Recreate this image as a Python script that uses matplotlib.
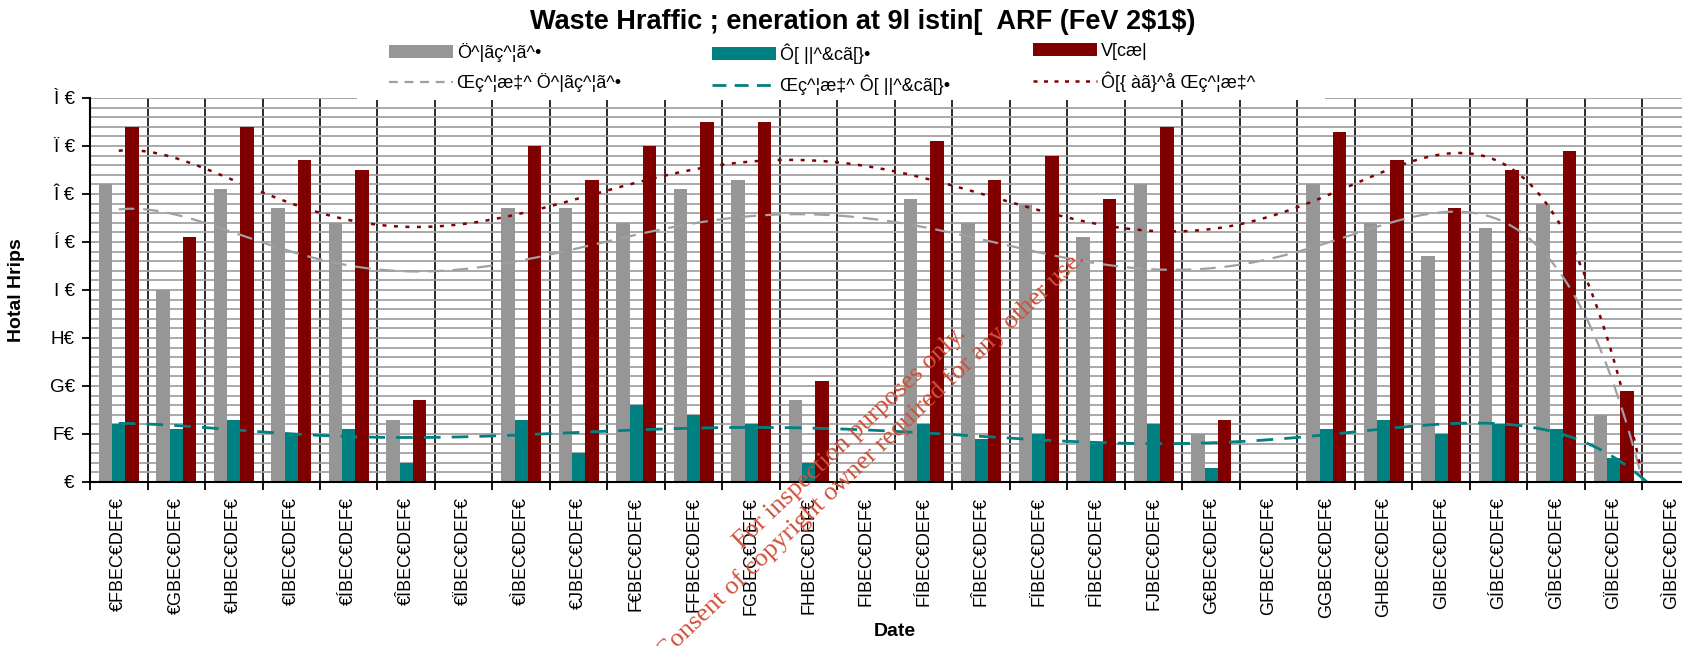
import numpy as np
import matplotlib
matplotlib.use("Agg")
import matplotlib.pyplot as plt
from matplotlib.patches import Rectangle, Patch
from matplotlib.lines import Line2D

# ---- data -------------------------------------------------------------
nan = np.nan
date_labels = [
    "€FBEC€DEF€", "€GBEC€DEF€", "€HBEC€DEF€", "€IBEC€DEF€", "€ÍBEC€DEF€",
    "€ÎBEC€DEF€", "€ÏBEC€DEF€", "€ÌBEC€DEF€", "€JBEC€DEF€", "F€BEC€DEF€",
    "FFBEC€DEF€", "FGBEC€DEF€", "FHBEC€DEF€", "FIBEC€DEF€", "FÍBEC€DEF€",
    "FÎBEC€DEF€", "FÏBEC€DEF€", "FÌBEC€DEF€", "FJBEC€DEF€", "G€BEC€DEF€",
    "GFBEC€DEF€", "GGBEC€DEF€", "GHBEC€DEF€", "GIBEC€DEF€", "GÍBEC€DEF€",
    "GÎBEC€DEF€", "GÏBEC€DEF€", "GÌBEC€DEF€",
]
deliveries = [62, 40, 61, 57, 54, 13, nan, 57, 57, 54, 61, 63, 17, nan,
              59, 54, 58, 51, 62, 10, nan, 62, 54, 47, 53, 58, 14, nan]
collections = [12, 11, 13, 10, 11, 4, nan, 13, 6, 16, 14, 12, 4, nan,
               12, 9, 10, 8, 12, 3, nan, 11, 13, 10, 12, 11, 5, nan]
total = [74, 51, 74, 67, 65, 17, nan, 70, 63, 70, 75, 75, 21, nan,
         71, 63, 68, 59, 74, 13, nan, 73, 67, 57, 65, 69, 19, nan]

y_ticks = [0, 10, 20, 30, 40, 50, 60, 70, 80]
y_tick_labels = ["€", "F€", "G€", "H€", "I €", "Í €", "Î €", "Ï €", "Ì €"]

series_names = ["Ö^|ãç^¦ã^•", "Ô[ ||^&cã[}•", "V[cæ|"]
trend_names = ["Œç^¦æ‡^ Ö^|ãç^¦ã^•", "Œç^¦æ‡^ Ô[ ||^&cã[}•", "Ô[{ àã}^å Œç^¦æ‡^"]
title_text = r"Waste Hraffic ; eneration at 9l istin[  ARF (FeV 2\$1\$)"

# ---- styling ----------------------------------------------------------
GREY, TEAL, RED = "#969696", "#008080", "#800000"
plt.rcParams["font.family"] = ["Liberation Sans", "DejaVu Sans"]

W, H = 1682, 646
fig = plt.figure(figsize=(W / 100, H / 100), dpi=100)
fig.patch.set_facecolor("white")

def fx(px):
    return px / W

def fy(py):
    return 1 - py / H

ax = fig.add_axes([fx(90), fy(482), fx(1610), 384 / H])

x = np.arange(len(date_labels))
bw = 0.232
ax.bar(x - bw, deliveries, bw, color=GREY, zorder=3, linewidth=0)
ax.bar(x, collections, bw, color=TEAL, zorder=3, linewidth=0)
ax.bar(x + bw, total, bw, color=RED, zorder=3, linewidth=0)

# polynomial (order 6) trend lines, fitted on the days that have data
xf = np.linspace(0, len(x) - 1, 800)
def trend(vals):
    v = np.asarray(vals, dtype=float)
    days = np.arange(1, len(v) + 1)
    ok = ~np.isnan(v)
    c = np.polyfit(days[ok], v[ok], 6)
    return np.polyval(c, xf + 1)

ax.plot(xf, trend(deliveries), color="#a0a0a0", lw=1.6, dashes=(7, 4), zorder=4)
ax.plot(xf, trend(collections), color=TEAL, lw=2.0, dashes=(6, 4), zorder=4)
ax.plot(xf, trend(total), color=RED, lw=1.8, dashes=(1.6, 3), zorder=4)

ax.set_xlim(-0.5, len(x) - 0.5)
ax.set_ylim(0, 80)

ax.set_yticks(y_ticks)
ax.set_yticklabels(y_tick_labels, fontsize=13.5)
ax.set_yticks(np.arange(0, 81, 2), minor=True)
ax.tick_params(axis="y", which="major", length=6, width=1.3, direction="out", pad=5)
ax.tick_params(axis="y", which="minor", length=0)

ax.set_xticks(x)
ax.set_xticklabels(date_labels, rotation=90, fontsize=13, va="top")
ax.set_xticks(np.arange(-0.5, len(x), 1), minor=True)
ax.tick_params(axis="x", which="major", length=0, pad=11)
ax.tick_params(axis="x", which="minor", length=6, width=1.3, direction="out")

ax.grid(axis="y", which="both", color="#a3a3a3", lw=1.3, zorder=0)
ax.grid(axis="x", which="minor", color="#1a1a1a", lw=1.3, zorder=1)
ax.grid(axis="x", which="major", visible=False)

for s in ["top", "right"]:
    ax.spines[s].set_visible(False)
for s in ["left", "bottom"]:
    ax.spines[s].set_linewidth(1.5)
    ax.spines[s].set_zorder(5)

ax.set_ylabel("Hotal Hrips", fontsize=14, fontweight="bold")
ax.yaxis.set_label_coords(fx(25 - 90) / fx(1610), 0.5)
ax.set_xlabel("Date", fontsize=14, fontweight="bold")
ax.xaxis.set_label_coords(0.5, -(631 - 482) / 384)
ax.xaxis.label.set_va("center")

fig.text(fx(863), fy(22), title_text, fontsize=19.5, fontweight="bold",
         ha="center", va="center")

# legend area
fig.patches.append(Rectangle((fx(357), fy(100)), fx(1325 - 357), 100 / H,
                             transform=fig.transFigure, facecolor="white",
                             edgecolor="none", zorder=2))

bar_handles = [Patch(facecolor=c, edgecolor="none") for c in (GREY, TEAL, RED)]
line_handles = [
    Line2D([], [], color="#a0a0a0", lw=1.6, dashes=(4, 3)),
    Line2D([], [], color=TEAL, lw=2.0, dashes=(5, 3)),
    Line2D([], [], color=RED, lw=1.8, dashes=(1.6, 2.6)),
]
for i, px in enumerate([389, 712, 1033]):
    leg = fig.legend([bar_handles[i], line_handles[i]],
                     [series_names[i], trend_names[i]],
                     loc="upper left", bbox_to_anchor=(fx(px), fy(43)),
                     bbox_transform=fig.transFigure, frameon=False,
                     fontsize=13, borderpad=0, borderaxespad=0,
                     handlelength=3.55, handleheight=0.72, handletextpad=0.2,
                     labelspacing=0.62)
    leg.set_zorder(6)

# watermark
wm = dict(color="#d0503a", family=["Liberation Serif", "DejaVu Serif"],
          fontsize=19, rotation=43.6, ha="center", va="center",
          rotation_mode="anchor", zorder=10)
fig.text(fx(850), fy(438), "For inspection purposes only.", **wm)
fig.text(fx(871), fy(455), "Consent of copyright owner required for any other use.", **wm)

fig.savefig("out.png", dpi=100)
